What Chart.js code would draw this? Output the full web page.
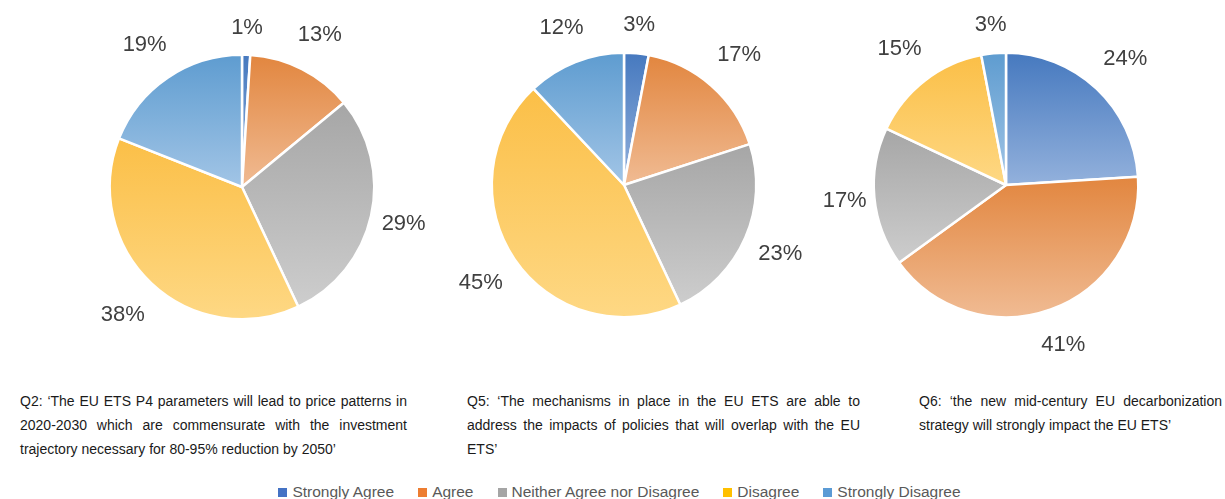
<!DOCTYPE html>
<html>
<head>
<meta charset="utf-8">
<script src="https://cdn.jsdelivr.net/npm/chart.js@4/dist/chart.umd.min.js"></script>
<style>
  body { margin: 0; background: #fff; width: 1225px; height: 499px; position: relative; overflow: hidden; font-family: "Liberation Sans", Arial, sans-serif; }
  canvas.pie { position: absolute; }
  .caption { position: absolute; color: #1a1a1a; font-size: 14px; line-height: 24px; }
  .caption div { white-space: nowrap; text-align: justify; text-align-last: justify; }
  .caption div.last { text-align-last: left; }
  #legend { position: absolute; left: 0; width: 1239px; top: 482px; display: flex; justify-content: center; color: #595959; font-size: 15.5px; line-height: 20px; }
  #legend span.item { display: flex; align-items: center; margin: 0 12px; }
  #legend i { display: inline-block; width: 9px; height: 9px; margin-right: 5px; }
</style>
</head>
<body>
<canvas class="pie" id="pie-q2" width="380" height="370" style="left:51.5px;top:1.5px"></canvas>
<canvas class="pie" id="pie-q5" width="380" height="370" style="left:433.5px;top:-0.5px"></canvas>
<canvas class="pie" id="pie-q6" width="380" height="370" style="left:816px;top:-0.5px"></canvas>

<div class="caption" id="cap-q2" style="left:20px;top:389px;width:387px"></div>
<div class="caption" id="cap-q5" style="left:467px;top:389px;width:393px"></div>
<div class="caption" id="cap-q6" style="left:919px;top:389px;width:303px"></div>
<div id="legend"></div>

<script>
const categories = ["Strongly Agree", "Agree", "Neither Agree nor Disagree", "Disagree", "Strongly Disagree"]
const q2Values = [1, 13, 29, 38, 19]
const q5Values = [3, 17, 23, 45, 12]
const q6Values = [24, 41, 17, 15, 3]

const q2Caption = [
    "Q2: \u2018The EU ETS P4 parameters will lead to price patterns in",
    "2020-2030 which are commensurate with the investment",
    "trajectory necessary for 80-95% reduction by 2050\u2019"
]
const q5Caption = [
    "Q5: \u2018The mechanisms in place in the EU ETS are able to",
    "address the impacts of policies that will overlap with the EU",
    "ETS\u2019"
]
const q6Caption = [
    "Q6: \u2018the new mid-century EU decarbonization",
    "strategy will strongly impact the EU ETS\u2019"
]

const legendColors = ["#4472C4", "#ED7D31", "#A5A5A5", "#FFC000", "#5B9BD5"]
const topColors = ["#4679BF", "#E2863F", "#A6A6A6", "#FBBF47", "#5E9CD0"]
const bottomColors = ["#93B1DC", "#F0BB93", "#CDCDCD", "#FED884", "#A2C5E6"]

// vertical gradient per slice, top of slice dark, bottom light
const sliceGradient = {
    id: "sliceGradient",
    beforeDatasetsDraw(chart) {
        const ctx = chart.ctx
        const meta = chart.getDatasetMeta(0)
        meta.data.forEach((arc, i) => {
            const { x, y, startAngle, endAngle, outerRadius } = arc.getProps(["x", "y", "startAngle", "endAngle", "outerRadius"], true)
            let ys = [y, y + Math.sin(startAngle) * outerRadius, y + Math.sin(endAngle) * outerRadius]
            const inRange = a => {
                let t = a
                while (t < startAngle) t += Math.PI * 2
                return t <= endAngle
            }
            if (inRange(-Math.PI / 2)) ys.push(y - outerRadius)
            if (inRange(Math.PI / 2)) ys.push(y + outerRadius)
            const y0 = Math.min(...ys)
            const y1 = Math.max(...ys)
            const g = ctx.createLinearGradient(0, y0, 0, y1 + 0.01)
            g.addColorStop(0, topColors[i])
            g.addColorStop(1, bottomColors[i])
            arc.options = Object.assign({}, arc.options, { backgroundColor: g })
        })
    }
}

// percent labels outside the pie
const outsideLabels = {
    id: "outsideLabels",
    afterDatasetsDraw(chart) {
        const ctx = chart.ctx
        const meta = chart.getDatasetMeta(0)
        const values = chart.data.datasets[0].data
        ctx.save()
        ctx.font = "22px 'Liberation Sans', Arial, sans-serif"
        ctx.fillStyle = "#404040"
        ctx.textAlign = "center"
        ctx.textBaseline = "middle"
        meta.data.forEach((arc, i) => {
            const { x, y, startAngle, endAngle, outerRadius } = arc.getProps(["x", "y", "startAngle", "endAngle", "outerRadius"], true)
            const mid = (startAngle + endAngle) / 2
            const dist = outerRadius + 27 + 15 * Math.abs(Math.sin(2 * mid))
            ctx.fillText(values[i] + "%", x + Math.cos(mid) * dist, y + Math.sin(mid) * dist + 1)
        })
        ctx.restore()
    }
}

const makePie = (id, values) => {
    return new Chart(document.getElementById(id), {
        type: "pie",
        data: {
            labels: categories,
            datasets: [{
                data: values,
                backgroundColor: topColors,
                borderColor: "#ffffff",
                borderWidth: 2.5
            }]
        },
        options: {
            responsive: false,
            animation: false,
            layout: { padding: { left: 56.5, right: 56.5, top: 51.5, bottom: 51.5 } },
            plugins: {
                legend: { display: false },
                tooltip: { enabled: false }
            }
        },
        plugins: [sliceGradient, outsideLabels]
    })
}

makePie("pie-q2", q2Values)
makePie("pie-q5", q5Values)
makePie("pie-q6", q6Values)

const fillCaption = (id, lines) => {
    const el = document.getElementById(id)
    lines.forEach((line, i) => {
        const d = document.createElement("div")
        d.textContent = line
        if (i === lines.length - 1) d.className = "last"
        el.appendChild(d)
    })
}
fillCaption("cap-q2", q2Caption)
fillCaption("cap-q5", q5Caption)
fillCaption("cap-q6", q6Caption)

const legend = document.getElementById("legend")
categories.forEach((name, i) => {
    const item = document.createElement("span")
    item.className = "item"
    const sw = document.createElement("i")
    sw.style.background = legendColors[i]
    item.appendChild(sw)
    item.appendChild(document.createTextNode(name))
    legend.appendChild(item)
})
</script>
</body>
</html>
